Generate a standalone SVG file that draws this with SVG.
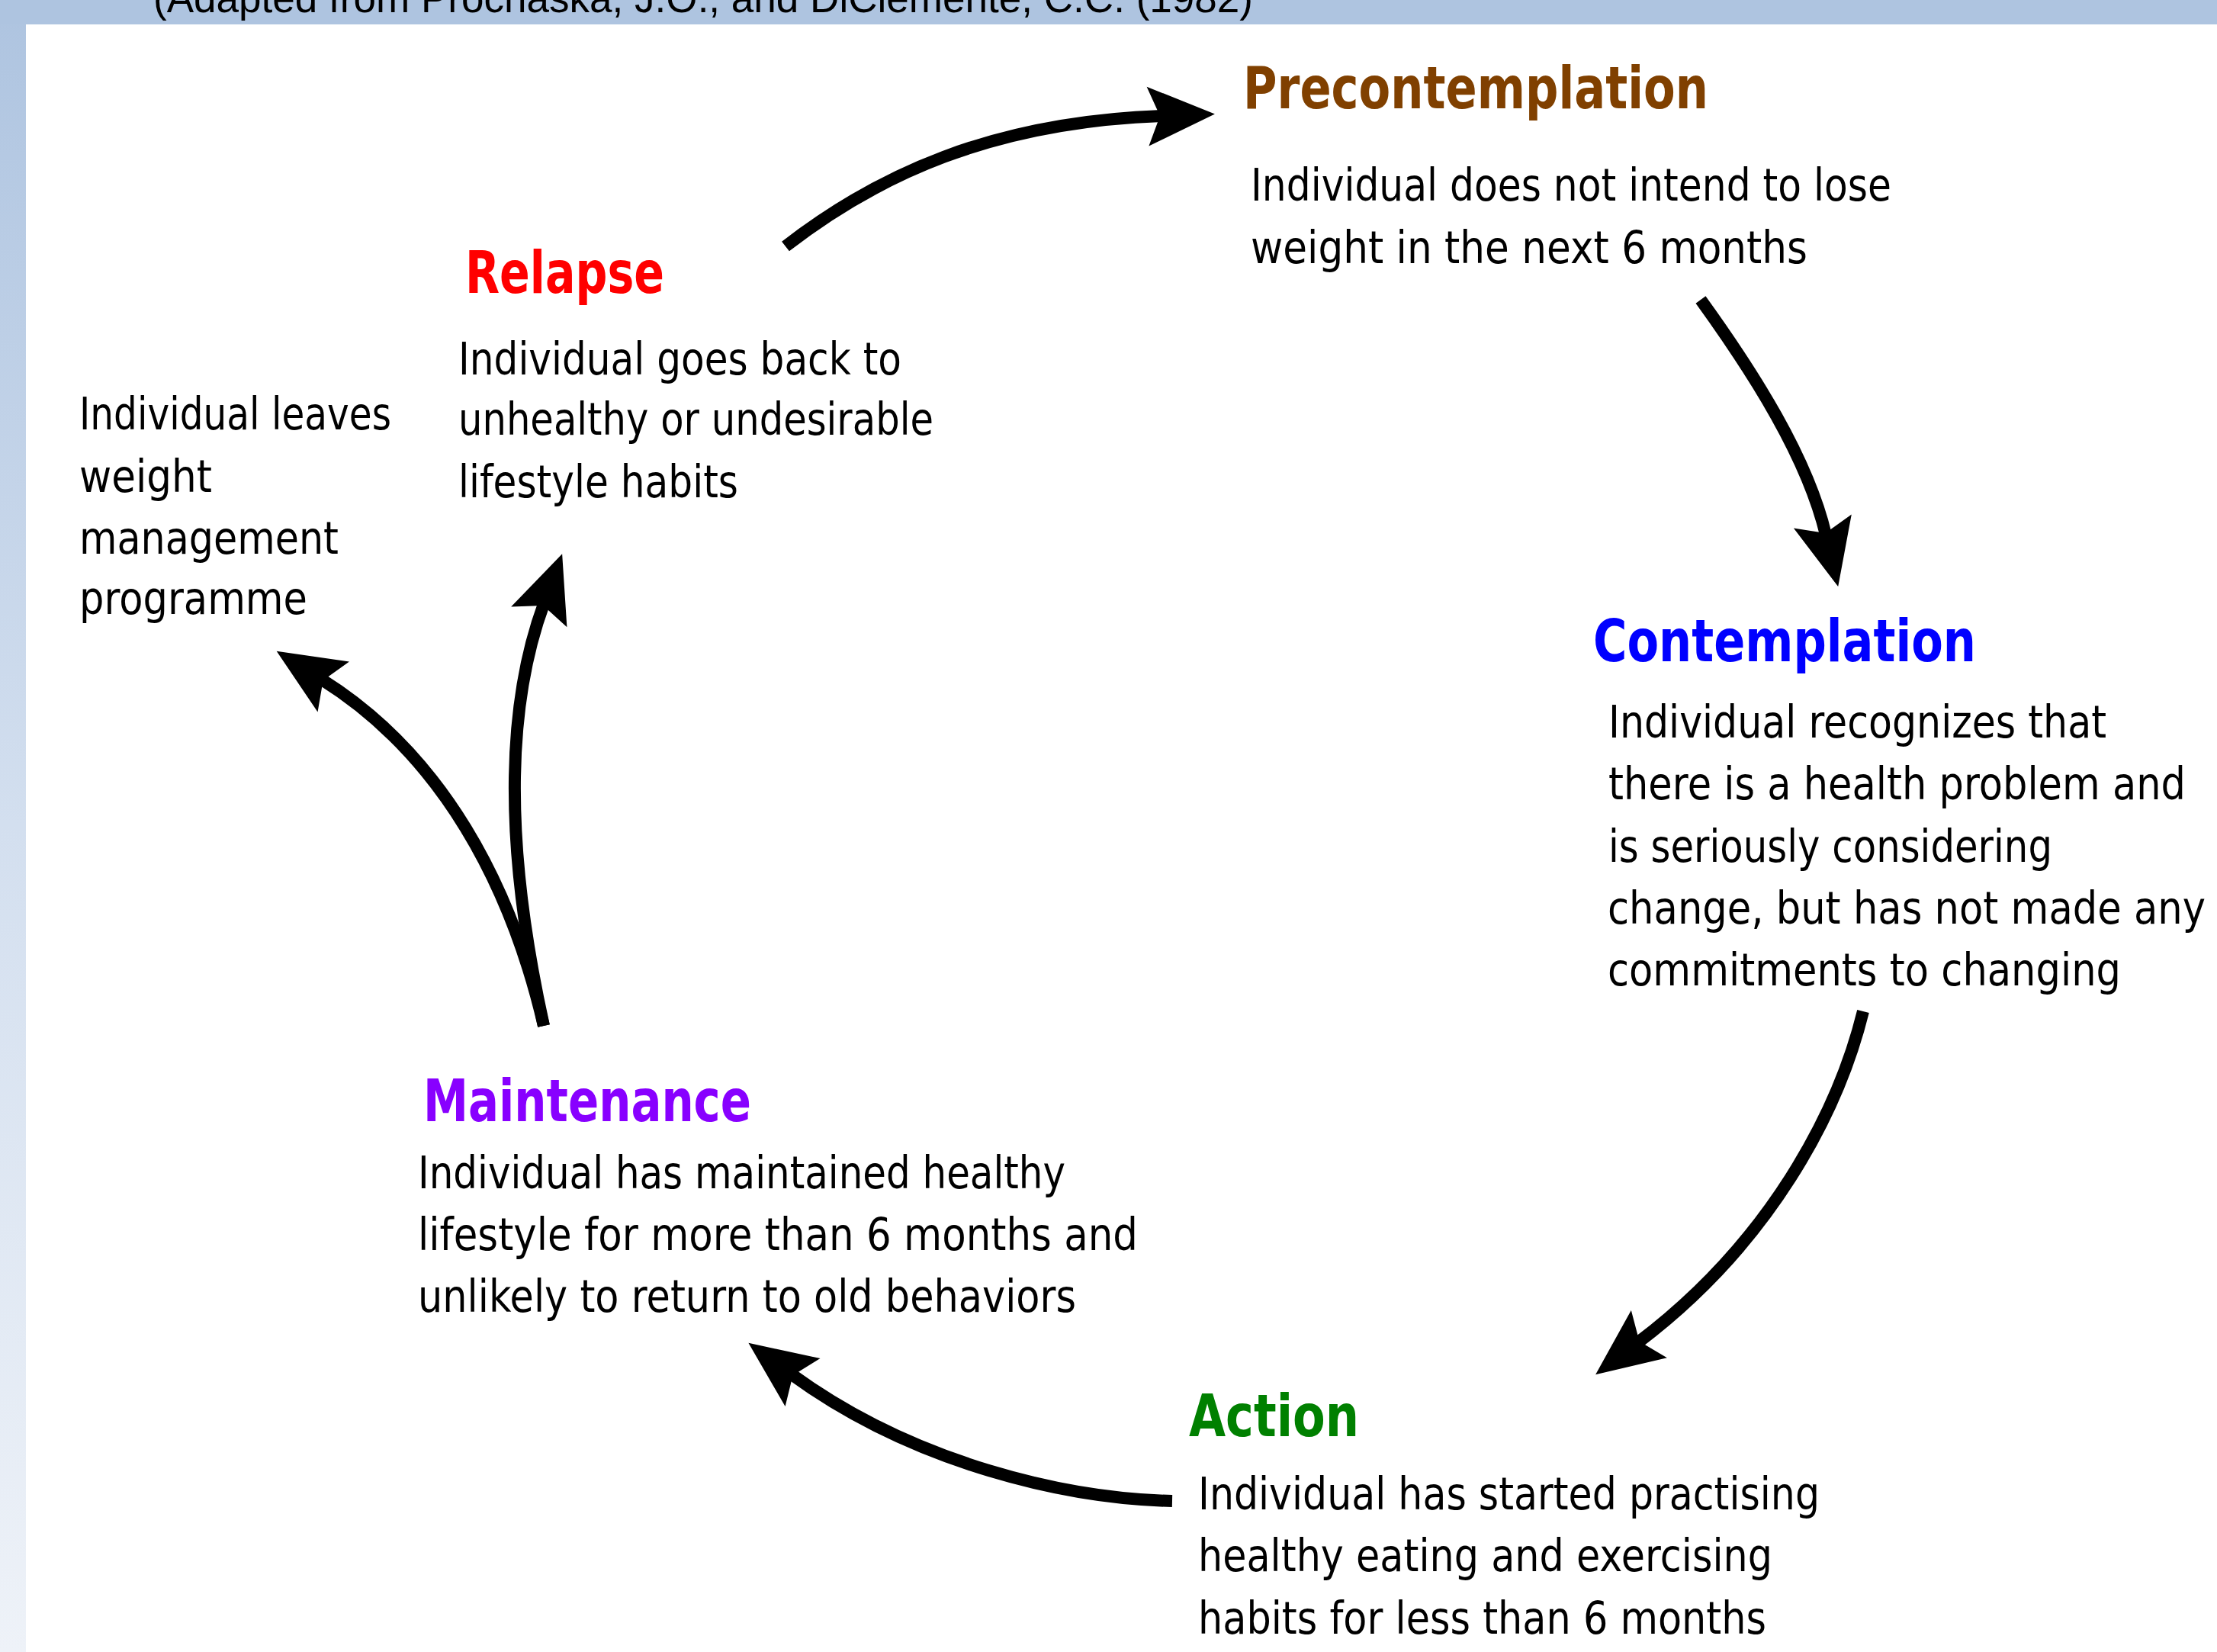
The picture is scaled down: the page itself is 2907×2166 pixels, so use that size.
<svg xmlns="http://www.w3.org/2000/svg" width="2907" height="2166" viewBox="0 0 2907 2166">
  <defs>
    <linearGradient id="sideGrad" x1="0" y1="0" x2="0" y2="1">
      <stop offset="0" stop-color="#AEC4E0"/>
      <stop offset="0.5" stop-color="#D3DFEF"/>
      <stop offset="1" stop-color="#EEF2F8"/>
    </linearGradient>
    <marker id="head" markerUnits="userSpaceOnUse" viewBox="0 -45 100 90" refX="20" refY="0" markerWidth="100" markerHeight="90" orient="auto" overflow="visible">
      <path d="M 90 0 L 2 -39 L 18 0 L 2 39 Z" fill="#000"/>
    </marker>
    <style>
      .body { font-family: "DejaVu Sans", "Liberation Sans", sans-serif; font-size: 58px; fill: #000; }
      .head { font-family: "DejaVu Sans", "Liberation Sans", sans-serif; font-size: 77px; font-weight: bold; }
      .arrow { fill: none; stroke: #000; stroke-width: 16; stroke-linecap: butt; marker-end: url(#head); }
    </style>
  </defs>

  <!-- background frame -->
  <rect x="0" y="0" width="2907" height="2166" fill="#FFFFFF"/>
  <rect x="0" y="0" width="34" height="2166" fill="url(#sideGrad)"/>
  <rect x="0" y="0" width="2907" height="32" fill="#AEC4E0"/>
  <text x="201" y="16" font-family="'Liberation Sans', Arial, sans-serif" font-size="53" fill="#000" textLength="1442" lengthAdjust="spacingAndGlyphs">(Adapted from Prochaska, J.O., and DiClemente, C.C. (1982)</text>

  <!-- connectors -->
  <g id="connectors">
    <path class="arrow" d="M 1030 323 C 1150 230 1300 160 1523 152"/>
    <path class="arrow" d="M 2230 393 C 2300 490 2370 600 2394 701"/>
    <path class="arrow" d="M 2443 1326 C 2410 1460 2320 1630 2148 1760"/>
    <path class="arrow" d="M 1537 1968 C 1400 1965 1200 1920 1038 1802"/>
    <path class="arrow" d="M 713 1345 C 670 1150 655 950 713 792"/>
    <path class="arrow" d="M 713 1345 C 670 1160 580 990 422 891"/>
  </g>

  <g id="precontemplation">
    <text class="head" x="1630" y="142" fill="#804000" textLength="610" lengthAdjust="spacingAndGlyphs">Precontemplation</text>
    <text class="body" x="1640" y="263" textLength="840" lengthAdjust="spacingAndGlyphs">Individual does not intend to lose</text>
    <text class="body" x="1640" y="345" textLength="730" lengthAdjust="spacingAndGlyphs">weight in the next 6 months</text>
  </g>

  <g id="contemplation">
    <text class="head" x="2089" y="867" fill="#0000FF" textLength="502" lengthAdjust="spacingAndGlyphs">Contemplation</text>
    <text class="body" x="2109" y="967" textLength="653" lengthAdjust="spacingAndGlyphs">Individual recognizes that</text>
    <text class="body" x="2109" y="1048" textLength="757" lengthAdjust="spacingAndGlyphs">there is a health problem and</text>
    <text class="body" x="2109" y="1130" textLength="582" lengthAdjust="spacingAndGlyphs">is seriously considering</text>
    <text class="body" x="2108" y="1211" textLength="784" lengthAdjust="spacingAndGlyphs">change, but has not made any</text>
    <text class="body" x="2108" y="1292" textLength="673" lengthAdjust="spacingAndGlyphs">commitments to changing</text>
  </g>

  <g id="action">
    <text class="head" x="1559" y="1883" fill="#008000" textLength="223" lengthAdjust="spacingAndGlyphs">Action</text>
    <text class="body" x="1571" y="1979" textLength="815" lengthAdjust="spacingAndGlyphs">Individual has started practising</text>
    <text class="body" x="1571" y="2060" textLength="753" lengthAdjust="spacingAndGlyphs">healthy eating and exercising</text>
    <text class="body" x="1571" y="2142" textLength="745" lengthAdjust="spacingAndGlyphs">habits for less than 6 months</text>
  </g>

  <g id="maintenance">
    <text class="head" x="555" y="1470" fill="#8800FF" textLength="430" lengthAdjust="spacingAndGlyphs">Maintenance</text>
    <text class="body" x="548" y="1558" textLength="849" lengthAdjust="spacingAndGlyphs">Individual has maintained healthy</text>
    <text class="body" x="548" y="1639" textLength="944" lengthAdjust="spacingAndGlyphs">lifestyle for more than 6 months and</text>
    <text class="body" x="548" y="1720" textLength="863" lengthAdjust="spacingAndGlyphs">unlikely to return to old behaviors</text>
  </g>

  <g id="relapse">
    <text class="head" x="610" y="384" fill="#FF0000" textLength="261" lengthAdjust="spacingAndGlyphs">Relapse</text>
    <text class="body" x="601" y="491" textLength="581" lengthAdjust="spacingAndGlyphs">Individual goes back to</text>
    <text class="body" x="601" y="570" textLength="623" lengthAdjust="spacingAndGlyphs">unhealthy or undesirable</text>
    <text class="body" x="601" y="652" textLength="367" lengthAdjust="spacingAndGlyphs">lifestyle habits</text>
  </g>

  <g id="leaves-programme">
    <text class="body" x="104" y="563" textLength="409" lengthAdjust="spacingAndGlyphs">Individual leaves</text>
    <text class="body" x="104" y="645" textLength="174" lengthAdjust="spacingAndGlyphs">weight</text>
    <text class="body" x="104" y="726" textLength="340" lengthAdjust="spacingAndGlyphs">management</text>
    <text class="body" x="104" y="805" textLength="299" lengthAdjust="spacingAndGlyphs">programme</text>
  </g>
</svg>
